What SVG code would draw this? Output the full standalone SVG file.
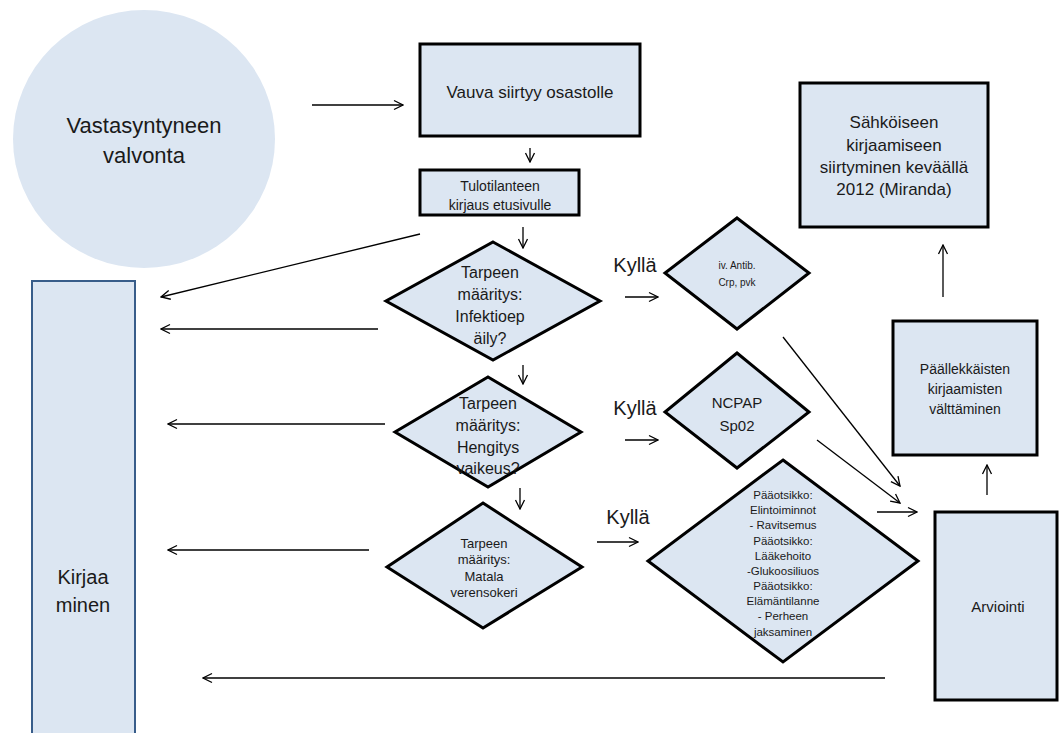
<svg xmlns="http://www.w3.org/2000/svg" width="1059" height="733" viewBox="0 0 1059 733">
<style>
.n{fill:#dce6f2;stroke:#000;stroke-width:3}
.t{font-family:"Liberation Sans",Arial,sans-serif;fill:#1a1a1a;text-anchor:middle;dominant-baseline:central}
.c{stroke:#000;stroke-width:1.3;fill:none;marker-end:url(#ah)}
</style>
<defs>
<marker id="ah" viewBox="0 0 12 12" refX="11" refY="6" markerWidth="12" markerHeight="12" markerUnits="userSpaceOnUse" orient="auto">
<path d="M2,1.5 L11,6 L2,10.5" fill="none" stroke="#000" stroke-width="1.3"/>
</marker>
</defs>
<rect width="1059" height="733" fill="#fff"/>
<g id="connectors">
<line class="c" x1="312" y1="105" x2="403" y2="105"/>
<line class="c" x1="530" y1="148" x2="530" y2="162"/>
<line class="c" x1="523" y1="227" x2="523" y2="248"/>
<line class="c" x1="420" y1="234" x2="161" y2="297"/>
<line class="c" x1="378" y1="329" x2="161" y2="329"/>
<line class="c" x1="625" y1="297" x2="658" y2="297"/>
<line class="c" x1="523" y1="365" x2="523" y2="384"/>
<line class="c" x1="385" y1="424" x2="168" y2="424"/>
<line class="c" x1="625" y1="440" x2="658" y2="440"/>
<line class="c" x1="520" y1="488" x2="520" y2="509"/>
<line class="c" x1="369" y1="550" x2="168" y2="550"/>
<line class="c" x1="597" y1="542" x2="638" y2="542"/>
<line class="c" x1="783" y1="337" x2="900" y2="486"/>
<line class="c" x1="817" y1="440" x2="900" y2="503"/>
<line class="c" x1="877" y1="512" x2="917" y2="512"/>
<line class="c" x1="885" y1="678" x2="203" y2="678"/>
<line class="c" x1="987" y1="495" x2="987" y2="465"/>
<line class="c" x1="943" y1="297" x2="943" y2="245"/>
</g>
<g id="vastasyntyneen">
<ellipse cx="144" cy="139" rx="131" ry="129" fill="#dce6f2"/>
<text class="t" x="144" y="125" font-size="22">Vastasyntyneen</text>
<text class="t" x="144" y="155" font-size="22">valvonta</text>
</g>
<g id="vauva">
<rect class="n" x="420" y="44" width="220" height="92"/>
<text class="t" x="530" y="92" font-size="17">Vauva siirtyy osastolle</text>
</g>
<g id="tulotilanteen">
<rect class="n" x="420" y="170" width="159" height="45"/>
<text class="t" x="500" y="186" font-size="14">Tulotilanteen</text>
<text class="t" x="500" y="205" font-size="14">kirjaus etusivulle</text>
</g>
<g id="kirjaaminen">
<rect x="32" y="281" width="103" height="470" fill="#dce6f2" stroke="#385d8a" stroke-width="2"/>
<text class="t" x="83" y="577" font-size="20">Kirjaa</text>
<text class="t" x="83" y="605" font-size="20">minen</text>
</g>
<g id="infektio">
<polygon class="n" points="493,242 600,301 493,360 386,301"/>
<text class="t" x="490" y="272" font-size="16">Tarpeen</text>
<text class="t" x="490" y="294" font-size="16">määritys:</text>
<text class="t" x="490" y="316" font-size="16">Infektioep</text>
<text class="t" x="490" y="338" font-size="16">äily?</text>
</g>
<g id="hengitys">
<polygon class="n" points="488,377 581,432 488,487 395,432"/>
<text class="t" x="488" y="403" font-size="16">Tarpeen</text>
<text class="t" x="488" y="425" font-size="16">määritys:</text>
<text class="t" x="488" y="447" font-size="16">Hengitys</text>
<text class="t" x="488" y="468" font-size="16">vaikeus?</text>
</g>
<g id="matala">
<polygon class="n" points="483,503 582,567 483,628 387,567"/>
<text class="t" x="484" y="543" font-size="13">Tarpeen</text>
<text class="t" x="484" y="559" font-size="13">määritys:</text>
<text class="t" x="484" y="576" font-size="13">Matala</text>
<text class="t" x="484" y="592" font-size="13">verensokeri</text>
</g>
<g id="kylla-labels">
<text class="t" x="635" y="265" font-size="20">Kyllä</text>
<text class="t" x="635" y="408" font-size="20">Kyllä</text>
<text class="t" x="628" y="517" font-size="20">Kyllä</text>
</g>
<g id="antib">
<polygon class="n" points="737,218 809,273 737,329 665,273"/>
<text class="t" x="737" y="265" font-size="10">iv. Antib.</text>
<text class="t" x="737" y="282" font-size="10">Crp, pvk</text>
</g>
<g id="ncpap">
<polygon class="n" points="737,353 809,412 737,468 665,412"/>
<text class="t" x="737" y="402" font-size="15">NCPAP</text>
<text class="t" x="737" y="425" font-size="15">Sp02</text>
</g>
<g id="paaotsikko">
<polygon class="n" points="783,460 918,561 783,662 648,561"/>
<text class="t" x="783" y="495" font-size="11.5">Pääotsikko:</text>
<text class="t" x="783" y="510" font-size="11.5">Elintoiminnot</text>
<text class="t" x="783" y="525" font-size="11.5">- Ravitsemus</text>
<text class="t" x="783" y="541" font-size="11.5">Pääotsikko:</text>
<text class="t" x="783" y="556" font-size="11.5">Lääkehoito</text>
<text class="t" x="783" y="571" font-size="11.5">-Glukoosiliuos</text>
<text class="t" x="783" y="586" font-size="11.5">Pääotsikko:</text>
<text class="t" x="783" y="601" font-size="11.5">Elämäntilanne</text>
<text class="t" x="783" y="616" font-size="11.5">- Perheen</text>
<text class="t" x="783" y="632" font-size="11.5">jaksaminen</text>
</g>
<g id="arviointi">
<rect class="n" x="935" y="512" width="122" height="188"/>
<text class="t" x="998" y="606" font-size="15">Arviointi</text>
</g>
<g id="paallekkaisten">
<rect class="n" x="893" y="321" width="144" height="134"/>
<text class="t" x="965" y="369" font-size="14">Päällekkäisten</text>
<text class="t" x="965" y="389" font-size="14">kirjaamisten</text>
<text class="t" x="965" y="409" font-size="14">välttäminen</text>
</g>
<g id="sahkoiseen">
<rect class="n" x="800" y="83" width="188" height="144"/>
<text class="t" x="894" y="122" font-size="17">Sähköiseen</text>
<text class="t" x="894" y="145" font-size="17">kirjaamiseen</text>
<text class="t" x="894" y="167" font-size="17">siirtyminen keväällä</text>
<text class="t" x="894" y="189" font-size="17">2012 (Miranda)</text>
</g>
</svg>
